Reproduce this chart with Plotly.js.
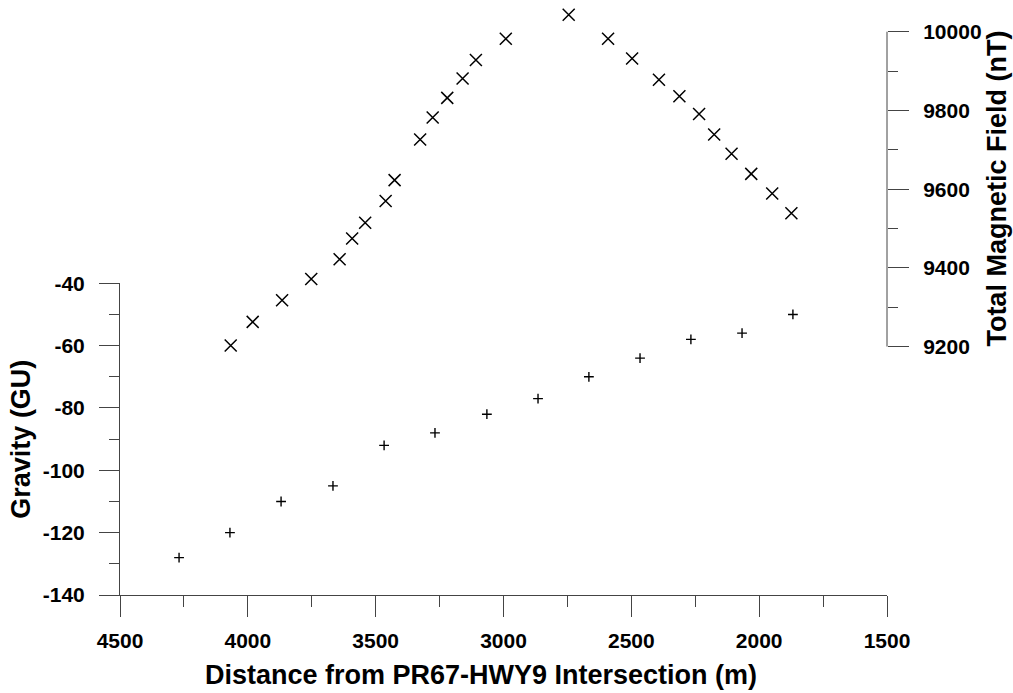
<!DOCTYPE html>
<html>
<head>
<meta charset="utf-8">
<script src="https://cdn.plot.ly/plotly-3.0.1.min.js"></script>
<style>html,body{margin:0;padding:0;background:#fff;}#chart{width:1013px;height:693px;}</style>
</head>
<body>
<div id="chart"></div>
<script>
// Gravity readings (+ markers)
var gravityDistance = [4269, 4070, 3870, 3667, 3467, 3268, 3065, 2865, 2666, 2466, 2267, 2067, 1868];
var gravityValue    = [-128, -120, -110, -105, -92, -88, -82, -77, -70, -64, -58, -56, -50];

// Total magnetic field readings (x markers)
var magDistance = [4067, 3981, 3866, 3752, 3641, 3592, 3541, 3461, 3426, 3326, 3277, 3220, 3160, 3108, 2991, 2745, 2591, 2497, 2392, 2312, 2235, 2176, 2108, 2031, 1949, 1874];
var magValue    = [9203, 9263, 9318, 9372, 9422, 9475, 9515, 9570, 9623, 9726, 9782, 9832, 9881, 9928, 9982, 10043, 9982, 9932, 9878, 9836, 9791, 9739, 9690, 9639, 9589, 9539];

// Tick labels
var xTickVals = [4500, 4000, 3500, 3000, 2500, 2000, 1500];
var xTickText = ['4500', '4000', '3500', '3000', '2500', '2000', '1500'];
var gravTickVals = [-140, -120, -100, -80, -60, -40];
var gravTickText = ['-140', '-120', '-100', '-80', '-60', '-40'];
var magTickVals = [9200, 9400, 9600, 9800, 10000];
var magTickText = ['9200', '9400', '9600', '9800', '10000'];

var xTitle = "Distance from PR67-HWY9 Intersection (m)";
var yTitle = "Gravity (GU)";
var y2Title = "Total Magnetic Field (nT)";

var FONT = "Liberation Sans, Arial, Helvetica, sans-serif";
var AX = '#444';

var traces = [
  {
    type: 'scatter', mode: 'markers', name: 'Gravity',
    x: gravityDistance, y: gravityValue, xaxis: 'x', yaxis: 'y',
    cliponaxis: false,
    marker: {symbol: 'cross-thin', size: 7, color: '#000', line: {color: '#000', width: 1.4}}
  },
  {
    type: 'scatter', mode: 'markers', name: 'Total Magnetic Field',
    x: magDistance, y: magValue, xaxis: 'x', yaxis: 'y2',
    cliponaxis: false,
    marker: {symbol: 'x-thin', size: 12, color: '#000', line: {color: '#000', width: 1.5}}
  }
];

var tickFont = {family: FONT, size: 21, color: '#000', weight: 'bold'};
var titleFont = {family: FONT, size: 27, color: '#000', weight: 'bold'};

// plot area: top 8px, bottom 595px (height 587)
var layout = {
  width: 1013, height: 693,
  margin: {l: 120, r: 126, t: 8, b: 98, pad: 0},
  paper_bgcolor: '#fff', plot_bgcolor: 'rgba(0,0,0,0)',
  showlegend: false,
  font: {family: FONT, color: '#000'},
  xaxis: {
    range: [4500, 1500],
    tickmode: 'array', tickvals: xTickVals, ticktext: xTickText,
    showgrid: false, zeroline: false,
    showline: true, linecolor: AX, linewidth: 1,
    ticks: 'outside', ticklen: 21, tickwidth: 1, tickcolor: AX,
    minor: {dtick: 250, tick0: 1500, ticks: 'outside', ticklen: 11, tickwidth: 1, tickcolor: AX, showgrid: false},
    tickfont: tickFont, ticklabelstandoff: 6,
    anchor: 'y',
    title: {text: xTitle + '&nbsp;&nbsp;&nbsp;&nbsp;&nbsp;&nbsp;', font: titleFont, standoff: 13}
  },
  yaxis: {
    domain: [0, 0.531], range: [-140, -40],
    tickmode: 'array', tickvals: gravTickVals, ticktext: gravTickText,
    showgrid: false, zeroline: false,
    showline: true, linecolor: AX, linewidth: 1,
    ticks: 'outside', ticklen: 20, tickwidth: 1, tickcolor: AX,
    minor: {dtick: 10, tick0: -140, ticks: 'outside', ticklen: 10, tickwidth: 1, tickcolor: AX, showgrid: false},
    tickfont: tickFont, ticklabelstandoff: 10,
    anchor: 'x', side: 'left',
    title: {text: yTitle, font: titleFont, standoff: 4}
  },
  yaxis2: {
    domain: [0.423, 1], range: [9200, 10060.2],
    tickmode: 'array', tickvals: magTickVals, ticktext: magTickText,
    showgrid: false, zeroline: false,
    showline: false,
    ticks: 'outside', ticklen: 21, tickwidth: 1, tickcolor: AX,
    minor: {tickvals: [9300, 9500, 9700, 9900], ticks: 'outside', ticklen: 10, tickwidth: 1, tickcolor: AX, showgrid: false},
    tickfont: tickFont, ticklabelstandoff: 10,
    anchor: 'x', side: 'right',
    title: {text: y2Title + '&nbsp;&nbsp;&nbsp;', font: titleFont, standoff: 0}
  },
  shapes: [
    {type: 'line', xref: 'paper', yref: 'y2', x0: 1, x1: 1, y0: 9200, y1: 10000,
     line: {color: AX, width: 1}, layer: 'above'}
  ]
};

Plotly.newPlot('chart', traces, layout, {displayModeBar: false, staticPlot: true});
</script>
</body>
</html>
